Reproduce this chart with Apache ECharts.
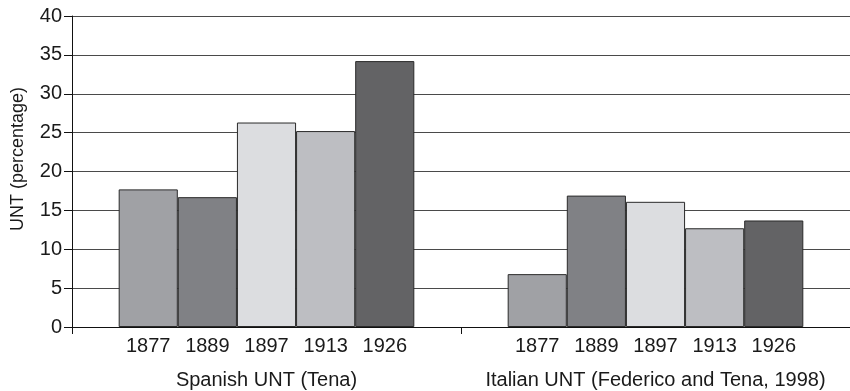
<!DOCTYPE html>
<html>
<head>
<meta charset="utf-8">
<script src="https://cdn.jsdelivr.net/npm/echarts@6/dist/echarts.min.js"></script>
<style>
html,body{margin:0;padding:0;background:#fff;}
#chart{width:850px;height:391px;}
</style>
</head>
<body>
<div id="chart"></div>
<script>
const groups = ['Spanish UNT (Tena)', 'Italian UNT (Federico and Tena, 1998)'];
const years = ['1877', '1889', '1897', '1913', '1926'];
const spanish = [17.7, 16.7, 26.3, 25.2, 34.2];
const italian = [6.8, 16.9, 16.1, 12.7, 13.7];
const yTicks = [0, 5, 10, 15, 20, 25, 30, 35, 40];
const yearColors = ['#a0a1a5', '#808185', '#dcdde0', '#bdbec2', '#636365'];

const FONT = '"Liberation Sans", Arial, sans-serif';
const chart = echarts.init(document.getElementById('chart'), null, {renderer: 'canvas'});

const series = years.map((y, i) => ({
  name: y,
  type: 'bar',
  data: [spanish[i], italian[i]],
  barGap: '0%',
  barCategoryGap: '24%',
  itemStyle: {color: yearColors[i], borderColor: '#2a2a2a', borderWidth: 1},
  label: {
    show: true,
    position: 'bottom',
    distance: 9,
    formatter: '{a}',
    color: '#1a1a1a',
    fontSize: 20,
    fontFamily: FONT
  },
  emphasis: {disabled: true},
  animation: false
}));

chart.setOption({
  animation: false,
  grid: {left: 72, right: 0, top: 16, bottom: 64, containLabel: false},
  xAxis: {
    type: 'category',
    data: groups,
    axisLine: {show: true, lineStyle: {color: '#111', width: 1}},
    axisTick: {show: true, inside: false, interval: 0, length: 7, alignWithLabel: false, lineStyle: {color: '#111'}},
    axisLabel: {interval: 0, hideOverlap: false, margin: 43, color: '#1a1a1a', fontSize: 20, fontFamily: FONT},
    splitLine: {show: false}
  },
  yAxis: {
    type: 'value',
    min: yTicks[0],
    max: yTicks[yTicks.length - 1],
    interval: 5,
    name: 'UNT (percentage)',
    nameLocation: 'middle',
    nameRotate: 90,
    nameGap: 45,
    nameTextStyle: {color: '#1a1a1a', fontSize: 18, fontFamily: FONT, padding: [0, 0, 0, 25]},
    axisLine: {show: true, lineStyle: {color: '#111', width: 1}},
    axisTick: {show: true, inside: false, length: 8, lineStyle: {color: '#111'}},
    axisLabel: {inside: false, margin: 10, color: '#1a1a1a', fontSize: 20, fontFamily: FONT},
    splitLine: {show: true, lineStyle: {color: '#4a4a4a', width: 1}}
  },
  series: series
});
</script>
</body>
</html>
